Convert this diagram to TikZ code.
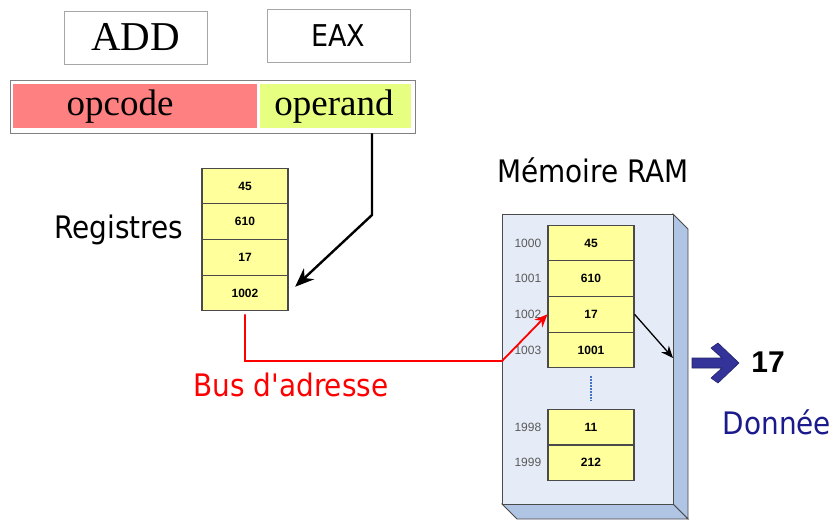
\documentclass[tikz,border=0pt]{standalone}
\usepackage{fontspec}
\setmainfont{Liberation Serif}
\setsansfont{DejaVu Sans Condensed}
\newfontfamily\arialfont{Liberation Sans}
\usetikzlibrary{positioning,matrix,arrows.meta}

\definecolor{cellyellow}{HTML}{FFFF9C}
\definecolor{cellborder}{HTML}{4A4A4A}
\definecolor{opcodered}{HTML}{FF8080}
\definecolor{operandgreen}{HTML}{E6FF80}
\definecolor{ramfront}{HTML}{E6ECF7}
\definecolor{ramside}{HTML}{B0C4E4}
\definecolor{fatblue}{HTML}{333399}
\definecolor{donneeblue}{HTML}{1A1A8C}
\definecolor{dotblue}{HTML}{4472C4}

\begin{document}
\begin{tikzpicture}[x=1pt,y=-1pt,
	memcell/.style={draw=cellborder, line width=1.1pt, fill=cellyellow, minimum width=86pt, minimum height=35.6pt, inner sep=0pt, font=\arialfont\bfseries\fontsize{12}{14}\selectfont},
	addr/.style={text=black!65, inner sep=0pt, font=\arialfont\fontsize{12}{14}\selectfont},
	lbl/.style={font=\sffamily\fontsize{31}{34}\selectfont},
	topbox/.style={draw=black!35, line width=0.8pt, minimum width=143pt, minimum height=53pt, inner sep=0pt}]
	\useasboundingbox (0,0) rectangle (832,521);

	% instruction
	\node (add) [topbox, font=\fontsize{41}{44}\selectfont] at (135.5,37.5) {ADD};
	\node (eax) [topbox, font=\sffamily\fontsize{30}{32}\selectfont] at (338.5,35.5) {EAX};
	\node (instr) [draw=black!50, line width=0.8pt, minimum width=405pt, minimum height=53pt] at (212.5,106.5) {};
	\node (opc) [fill=opcodered, minimum width=244pt, minimum height=44pt, inner sep=0pt] at (135,106) {};
	\node (opr) [fill=operandgreen, minimum width=151pt, minimum height=44pt, inner sep=0pt] at (335.5,106) {};
	\node [font=\fontsize{37}{40}\selectfont] at (120,107) {opcode};
	\node [font=\fontsize{37}{40}\selectfont] at (334,107) {operand};

	% registres
	\matrix (reg) [matrix of nodes, nodes={memcell}, row sep=-1.1pt, inner sep=0pt] at (245,239.5) {
	45\\
	610\\
	17\\
	1002\\
	};
	\node (registres) [lbl] at (119,230) {Registres};

	% memoire
	\filldraw[fill=ramside, draw=cellborder, line width=0.9pt] (673,214) -- (688,229) -- (688,519) -- (673,504) -- cycle;
	\filldraw[fill=ramside, draw=cellborder, line width=0.9pt] (502,504) -- (517,519) -- (688,519) -- (673,504) -- cycle;
	\node (ram) [draw=cellborder, fill=ramfront, line width=0.9pt, minimum width=171pt, minimum height=290pt, inner sep=0pt] at (587.5,359) {};
	\node (mem) [lbl] at (593,170) {Mémoire RAM};

	\matrix (ram1) [matrix of nodes, nodes={memcell}, row sep=-1.1pt, inner sep=0pt] at (591,296.5) {
	45\\
	610\\
	17\\
	1001\\
	};
	\matrix (ram2) [matrix of nodes, nodes={memcell}, row sep=-1.1pt, inner sep=0pt] at (591,445) {
	11\\
	212\\
	};
	\node [addr, left=6pt of ram1-1-1] {1000};
	\node [addr, left=6pt of ram1-2-1] {1001};
	\node [addr, left=6pt of ram1-3-1] {1002};
	\node [addr, left=6pt of ram1-4-1] {1003};
	\node [addr, left=6pt of ram2-1-1] {1998};
	\node [addr, left=6pt of ram2-2-1] {1999};
	\draw [dotblue, line width=1.3pt, dash pattern=on 1.5pt off 1.5pt, shorten <=8pt, shorten >=8pt] (ram1-4-1.south) -- (ram2-1-1.north);

	% fleches
	\coordinate (bend) at (372,215);
	\draw [line width=2.4pt, -{Stealth[length=19pt, width=15pt]}, shorten >=9pt] (bend |- instr.south) -- (bend) -- (reg-4-1.east);

	\coordinate (busturn) at (502,361);
	\draw [red, line width=1.8pt, -{Stealth[length=13pt, width=11pt]}] ([yshift=-3pt]reg-4-1.south) |- (busturn) -- (ram1-3-1.west);
	\node (bus) [lbl, text=red] at (291,385) {Bus d\textquotesingle adresse};

	\coordinate (out) at (673,358);
	\draw [line width=1.3pt, -{Stealth[length=12pt, width=10pt]}] (ram1-3-1.east) -- (out);

	\coordinate (fat) at (692,363);
	\filldraw [shift={(fat)}, fill=fatblue, draw=fatblue!70!black, line width=0.6pt]
		(0,-5) -- (30,-5) -- (19,-15) -- (26,-20) -- (47,0) -- (26,20) -- (19,15) -- (30,5) -- (0,5) -- cycle;
	\node (val) [font=\arialfont\bfseries\fontsize{30}{32}\selectfont] at (768,362) {17};
	\node (donnee) [lbl, text=donneeblue] at (777,422) {Donnée};
\end{tikzpicture}
\end{document}
